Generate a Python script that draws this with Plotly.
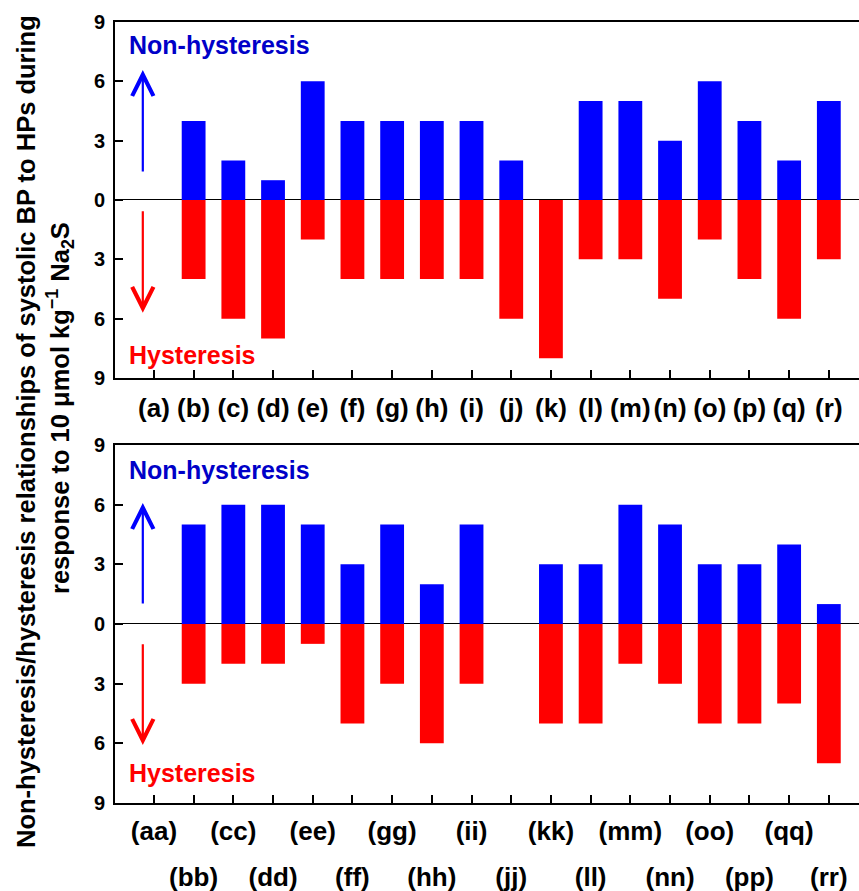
import plotly.graph_objects as go

top_labels = ["(a)", "(b)", "(c)", "(d)", "(e)", "(f)", "(g)", "(h)", "(i)",
              "(j)", "(k)", "(l)", "(m)", "(n)", "(o)", "(p)", "(q)", "(r)"]
top_nonhyst = [0, 4, 2, 1, 6, 4, 4, 4, 4, 2, 0, 5, 5, 3, 6, 4, 2, 5]
top_hyst = [0, 4, 6, 7, 2, 4, 4, 4, 4, 6, 8, 3, 3, 5, 2, 4, 6, 3]

bot_labels = ["(aa)", "(bb)", "(cc)", "(dd)", "(ee)", "(ff)", "(gg)", "(hh)", "(ii)",
              "(jj)", "(kk)", "(ll)", "(mm)", "(nn)", "(oo)", "(pp)", "(qq)", "(rr)"]
bot_nonhyst = [0, 5, 6, 6, 5, 3, 5, 2, 5, 0, 3, 3, 6, 5, 3, 3, 4, 1]
bot_hyst = [0, 3, 2, 2, 1, 5, 3, 6, 3, 0, 5, 5, 2, 3, 5, 5, 4, 7]

ytick_vals = [-9, -6, -3, 0, 3, 6, 9]
ytick_text = ["9", "6", "3", "0", "3", "6", "9"]

BLUE = "#0000FF"
RED = "#FF0000"
FONT = "Liberation Sans, Arial, sans-serif"

pos = list(range(len(top_labels)))

fig = go.Figure()
# top panel
fig.add_trace(go.Bar(x=pos, y=top_nonhyst, marker=dict(color=BLUE, line=dict(width=0)),
                     width=0.6, xaxis="x", yaxis="y", showlegend=False))
fig.add_trace(go.Bar(x=pos, y=[-v for v in top_hyst], marker=dict(color=RED, line=dict(width=0)),
                     width=0.6, xaxis="x", yaxis="y", showlegend=False))
# bottom panel
fig.add_trace(go.Bar(x=pos, y=bot_nonhyst, marker=dict(color=BLUE, line=dict(width=0)),
                     width=0.6, xaxis="x2", yaxis="y2", showlegend=False))
fig.add_trace(go.Bar(x=pos, y=[-v for v in bot_hyst], marker=dict(color=RED, line=dict(width=0)),
                     width=0.6, xaxis="x2", yaxis="y2", showlegend=False))
# helper invisible traces for the two staggered rows of labels
fig.add_trace(go.Scatter(x=pos, y=[0] * len(pos), mode="markers", marker=dict(opacity=0),
                         hoverinfo="skip", xaxis="x3", yaxis="y2", showlegend=False))
fig.add_trace(go.Scatter(x=pos, y=[0] * len(pos), mode="markers", marker=dict(opacity=0),
                         hoverinfo="skip", xaxis="x4", yaxis="y2", showlegend=False))

xrange = [-0.98, 17.76]
xdom = [0.1339, 1.0]
tickfont = dict(family=FONT, size=20, color="black", weight="bold")
catfont = dict(family=FONT, size=26, color="black", weight="bold")

common_x = dict(range=xrange, domain=xdom, showline=True, linecolor="black", linewidth=2,
                mirror=True, ticks="inside", ticklen=8, tickwidth=1.5, tickcolor="black",
                showgrid=False, zeroline=False, tickvals=pos, automargin=False)
common_y = dict(range=[-9, 9], tickvals=ytick_vals, ticktext=ytick_text, showline=True,
                linecolor="black", linewidth=2, ticks="inside", ticklen=8, tickwidth=1.5,
                tickcolor="black", showgrid=False, zeroline=True, zerolinecolor="black",
                zerolinewidth=1, tickfont=tickfont, automargin=False, ticklabelstandoff=4)

odd_pos = [p for p in pos if p % 2 == 0]
odd_text = [bot_labels[p] for p in odd_pos]
even_pos = [p for p in pos if p % 2 == 1]
even_text = [bot_labels[p] for p in even_pos]

label_axis = dict(range=xrange, domain=xdom, overlaying="x2", anchor="y2", side="bottom",
                  showline=False, ticks="", showgrid=False, zeroline=False,
                  tickfont=catfont, automargin=False)

fig.update_layout(
    width=859, height=891,
    margin=dict(l=0, r=0, t=0, b=0),
    plot_bgcolor="white", paper_bgcolor="white",
    barmode="overlay",
    xaxis=dict(**common_x, anchor="y", ticktext=top_labels, tickfont=catfont, ticklabelstandoff=6),
    yaxis=dict(**common_y, domain=[0.5758, 0.9753], anchor="x"),
    xaxis2=dict(**common_x, anchor="y2", showticklabels=False),
    yaxis2=dict(**common_y, domain=[0.0988, 0.5006], anchor="x2"),
    xaxis3=dict(**label_axis, tickvals=even_pos, ticktext=even_text, ticklabelstandoff=56),
    xaxis4=dict(**label_axis, tickvals=odd_pos, ticktext=odd_text, ticklabelstandoff=10),
)

ann = []
for yref, xref, ytxt_top, ytxt_bot, arr in [
    ("y", "x", 7.83, -7.83, (1.36, 6.57, -0.5, -5.7)),
    ("y2", "x2", 7.74, -7.5, (0.95, 6.08, -0.95, -6.08)),
]:
    ann.append(dict(x=-0.68, y=ytxt_top, xref=xref, yref=yref, text="Non-hysteresis",
                    showarrow=False, xanchor="left", yanchor="middle",
                    font=dict(family=FONT, size=25, color="#0000C8", weight="bold")))
    ann.append(dict(x=-0.68, y=ytxt_bot, xref=xref, yref=yref, text="Hysteresis",
                    showarrow=False, xanchor="left", yanchor="middle",
                    font=dict(family=FONT, size=25, color=RED, weight="bold")))
    t0, t1, b0, b1 = arr
    ann.append(dict(x=-0.28, y=t1, ax=-0.28, ay=t0, xref=xref, yref=yref, axref=xref, ayref=yref,
                    text="", showarrow=True, arrowhead=5, arrowsize=1.9, arrowwidth=2.2,
                    arrowcolor=BLUE))
    ann.append(dict(x=-0.28, y=b1, ax=-0.28, ay=b0, xref=xref, yref=yref, axref=xref, ayref=yref,
                    text="", showarrow=True, arrowhead=5, arrowsize=1.9, arrowwidth=2.2,
                    arrowcolor=RED))

ann.append(dict(x=26 / 859, y=1 - 432 / 891, xref="paper", yref="paper",
                text="Non-hysteresis/hysteresis relationships of systolic BP to HPs during",
                textangle=-90, showarrow=False, xanchor="center", yanchor="middle",
                font=dict(family=FONT, size=25.5, color="black", weight="bold")))
ann.append(dict(x=60 / 859, y=1 - 408 / 891, xref="paper", yref="paper",
                text="response to 10 \u03bcmol kg<sup>\u22121</sup> Na<sub>2</sub>S",
                textangle=-90, showarrow=False, xanchor="center", yanchor="middle",
                font=dict(family=FONT, size=25.5, color="black", weight="bold")))

fig.update_layout(annotations=ann)
fig.write_html("out.html")
